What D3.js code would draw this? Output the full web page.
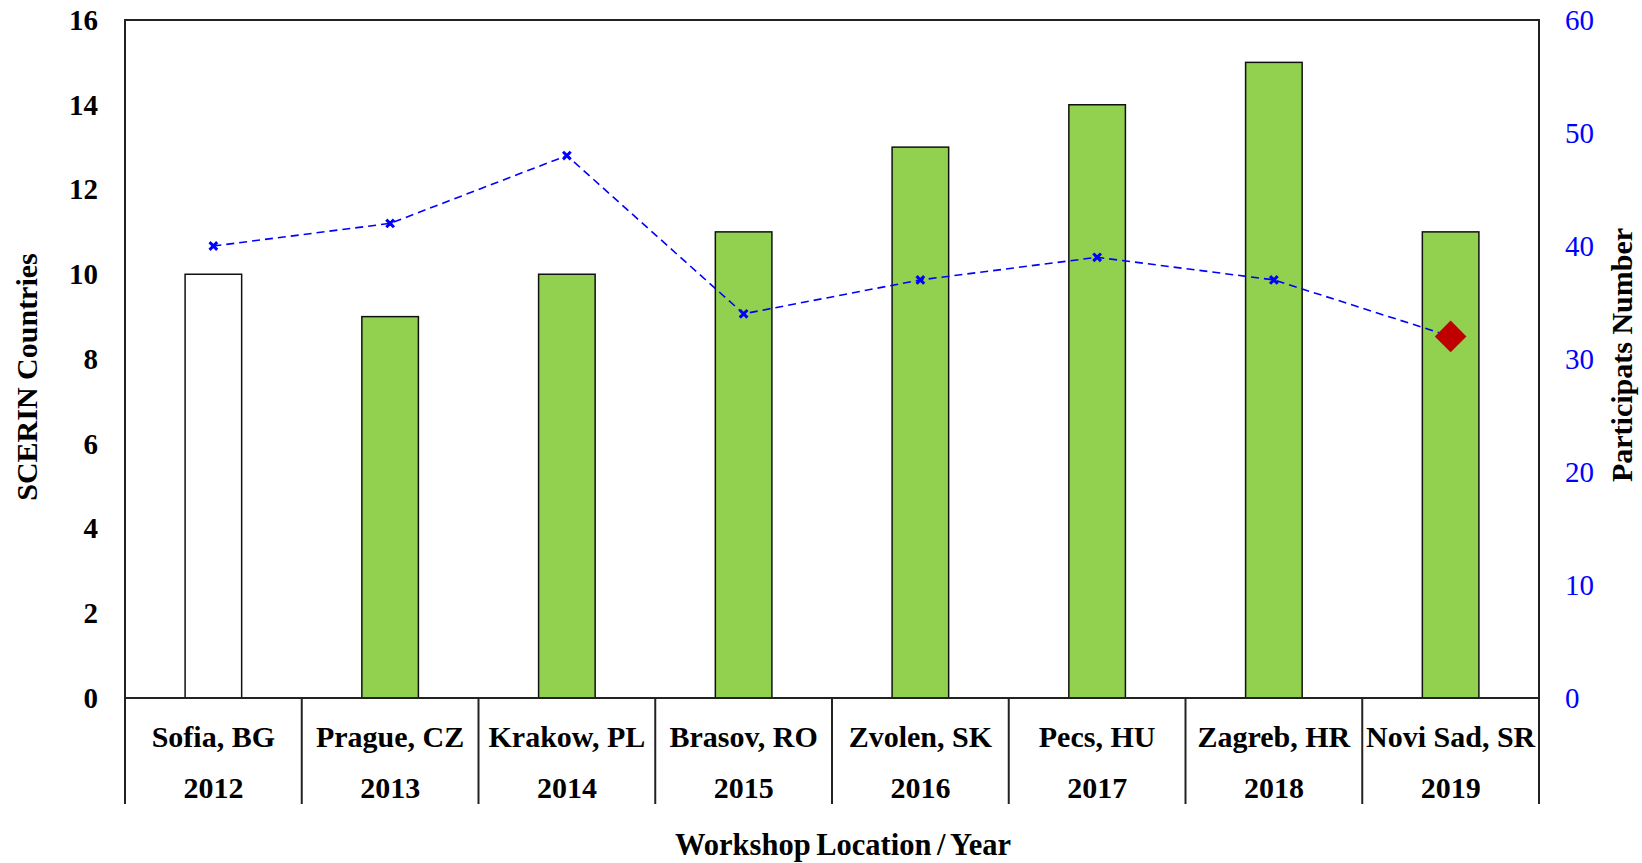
<!DOCTYPE html>
<html>
<head>
<meta charset="utf-8">
<script src="https://cdn.jsdelivr.net/npm/d3@7"></script>
<style>
  body { margin: 0; background: #fff; }
  text { font-family: "Liberation Serif", "Times New Roman", serif; }
</style>
</head>
<body>
<svg width="1642" height="863"></svg>
<script>
// data
var locations = ["Sofia, BG", "Prague, CZ", "Krakow, PL", "Brasov, RO", "Zvolen, SK", "Pecs, HU", "Zagreb, HR", "Novi Sad, SR"];
var years = ["2012", "2013", "2014", "2015", "2016", "2017", "2018", "2019"];
var countries = [10, 9, 10, 11, 13, 14, 15, 11];
var participants = [40, 42, 48, 34, 37, 39, 37, 32];
var leftTicks = [0, 2, 4, 6, 8, 10, 12, 14, 16];
var rightTicks = [0, 10, 20, 30, 40, 50, 60];

var svg = d3.select("svg"),
    margin = { top: 20, right: 103, bottom: 165, left: 125 },
    width = +svg.attr("width"),
    height = +svg.attr("height");

const innerWidth = width - margin.left - margin.right;
const innerHeight = height - margin.top - margin.bottom;
const catBottom = 804;

const xScale = d3.scaleBand()
  .domain(d3.range(locations.length))
  .range([margin.left, margin.left + innerWidth])
  .padding(0);

const yLeft = d3.scaleLinear()
  .domain([0, 16])
  .range([margin.top + innerHeight, margin.top]);

const yRight = d3.scaleLinear()
  .domain([0, 60])
  .range([margin.top + innerHeight, margin.top]);

const g = svg.append("g");

//--- Bars ----//
const barW = xScale.bandwidth() * 0.32;
g.selectAll("rect.bar")
  .data(countries)
  .enter()
  .append("rect")
  .attr("class", "bar")
  .attr("x", (d, i) => xScale(i) + xScale.bandwidth() / 2 - barW / 2)
  .attr("y", d => yLeft(d))
  .attr("width", barW)
  .attr("height", d => yLeft(0) - yLeft(d))
  .attr("fill", (d, i) => i == 0 ? "#ffffff" : "#92D050")
  .attr("stroke", "#111")
  .attr("stroke-width", 1.5);

//--- Frame ----//
g.append("rect")
  .attr("x", margin.left)
  .attr("y", margin.top)
  .attr("width", innerWidth)
  .attr("height", innerHeight)
  .attr("fill", "none")
  .attr("stroke", "#222")
  .attr("stroke-width", 2);

// category separators below the axis
var bounds = d3.range(locations.length + 1).map(i => i < locations.length ? xScale(i) : margin.left + innerWidth);
g.selectAll("line.sep")
  .data(bounds)
  .enter()
  .append("line")
  .attr("class", "sep")
  .attr("x1", d => d).attr("x2", d => d)
  .attr("y1", yLeft(0)).attr("y2", catBottom)
  .attr("stroke", "#222")
  .attr("stroke-width", 2);

// category labels
g.selectAll("text.loc")
  .data(locations)
  .enter()
  .append("text")
  .attr("class", "loc")
  .attr("x", (d, i) => xScale(i) + xScale.bandwidth() / 2)
  .attr("y", 747)
  .attr("text-anchor", "middle")
  .attr("font-size", "30px")
  .attr("font-weight", "bold")
  .text(d => d);

g.selectAll("text.yr")
  .data(years)
  .enter()
  .append("text")
  .attr("class", "yr")
  .attr("x", (d, i) => xScale(i) + xScale.bandwidth() / 2)
  .attr("y", 798)
  .attr("text-anchor", "middle")
  .attr("font-size", "30px")
  .attr("font-weight", "bold")
  .text(d => d);

//--- Axes ----//
const leftAxis = g.append("g")
  .attr("transform", "translate(" + margin.left + ",0)")
  .call(d3.axisLeft(yLeft).tickValues(leftTicks).tickSize(0).tickPadding(27));
leftAxis.select(".domain").remove();
leftAxis.selectAll("text")
  .attr("font-size", "29px")
  .attr("font-weight", "bold")
  .attr("fill", "#000")
  .attr("font-family", null);

const rightAxis = g.append("g")
  .attr("transform", "translate(" + (margin.left + innerWidth) + ",0)")
  .call(d3.axisRight(yRight).tickValues(rightTicks).tickSize(0).tickPadding(26));
rightAxis.select(".domain").remove();
rightAxis.selectAll("text")
  .attr("font-size", "29px")
  .attr("fill", "#0000ff")
  .attr("font-family", null);

//--- Participants line ----//
const line = d3.line()
  .x((d, i) => xScale(i) + xScale.bandwidth() / 2)
  .y(d => yRight(d));

g.append("path")
  .datum(participants)
  .attr("fill", "none")
  .attr("stroke", "#0000ff")
  .attr("stroke-width", 1.6)
  .attr("stroke-dasharray", "8,5")
  .attr("d", line);

const last = participants.length - 1;
g.selectAll("path.mark")
  .data(participants.slice(0, last))
  .enter()
  .append("path")
  .attr("class", "mark")
  .attr("transform", (d, i) => "translate(" + (xScale(i) + xScale.bandwidth() / 2) + "," + yRight(d) + ")")
  .attr("d", d3.symbol().type(d3.symbolX).size(40))
  .attr("fill", "none")
  .attr("stroke", "#0000ff")
  .attr("stroke-width", 3);

// highlighted last point
g.append("path")
  .attr("d", d3.symbol().type(d3.symbolSquare).size(500))
  .attr("transform", "translate(" + (xScale(last) + xScale.bandwidth() / 2) + "," + yRight(participants[last]) + ") rotate(45)")
  .attr("fill", "#C00000");

//--- Titles ----//
svg.append("text")
  .attr("x", 843)
  .attr("y", 855)
  .attr("text-anchor", "middle")
  .attr("font-size", "30.5px")
  .attr("font-weight", "bold")
  .attr("word-spacing", "-2px")
  .text("Workshop Location / Year");

svg.append("text")
  .attr("transform", "translate(37,377) rotate(-90)")
  .attr("text-anchor", "middle")
  .attr("font-size", "30px")
  .attr("font-weight", "bold")
  .text("SCERIN Countries");

svg.append("text")
  .attr("transform", "translate(1632,355) rotate(-90)")
  .attr("text-anchor", "middle")
  .attr("font-size", "30px")
  .attr("font-weight", "bold")
  .text("Participats Number");
</script>
</body>
</html>
